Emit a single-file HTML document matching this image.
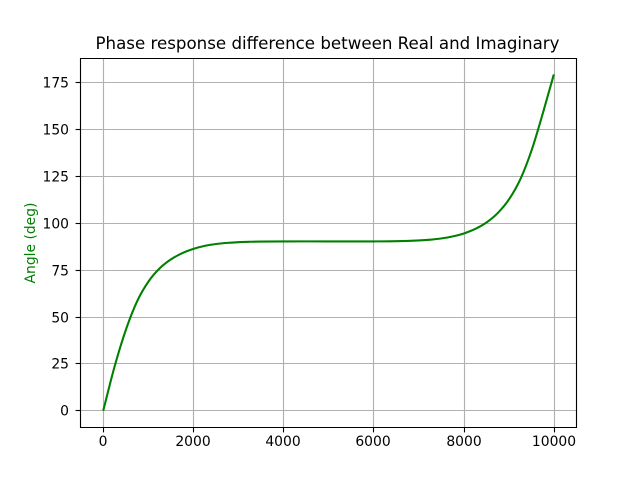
<!DOCTYPE html>
<html>
<head>
<meta charset="utf-8">
<title>Phase response difference</title>
<style>
html,body{margin:0;padding:0;background:#fff;}
svg{display:block;}
text{font-family:"DejaVu Sans","Liberation Sans",sans-serif;fill:#000;}
</style>
</head>
<body>
<svg id="chart" width="640" height="480" viewBox="0 0 640 480" xmlns="http://www.w3.org/2000/svg">
<rect x="0" y="0" width="640" height="480" fill="#fff"/>
<text x="327.5" y="49" font-size="16.67" text-anchor="middle">Phase response difference between Real and Imaginary</text>
<text transform="translate(35,243) rotate(-90)" font-size="13.89" text-anchor="middle" style="fill:#008000">Angle (deg)</text>
<g id="grid"></g>
<g id="series"></g>
<g id="ticks"></g>
<g id="spines"></g>
</svg>
<script>
const frequencies = [0,250,500,750,1000,1250,1500,1750,2000,2250,2500,2750,3000,3250,3500,4000,5000,6000,6500,7000,7250,7500,7750,8000,8250,8500,8750,9000,9250,9500,9750,9985];
const phaseDegrees = [0,23.4,43,58.3,68.8,75.9,80.7,84,86.3,87.9,88.9,89.5,89.9,90.1,90.2,90.3,90.3,90.3,90.4,90.8,91.2,91.9,93,94.6,97,100.5,105.6,113,123.8,139.4,159.3,179.3];
const xTickValues = [0,2000,4000,6000,8000,10000];
const yTickValues = [0,25,50,75,100,125,150,175];

const NS = 'http://www.w3.org/2000/svg';
const LEFT = 80, RIGHT = 576, TOP = 58, BOTTOM = 427;
function xAxis(v){ return 103.2 + v * 0.04513; }
function yAxis(v){ return 410.8 - v * 1.876; }
function snap(p){ return Math.floor(p) + 0.5; }
function line(parent, x1, y1, x2, y2, color, width){
  const el = document.createElementNS(NS, 'line');
  el.setAttribute('x1', x1);
  el.setAttribute('y1', y1);
  el.setAttribute('x2', x2);
  el.setAttribute('y2', y2);
  el.setAttribute('stroke', color);
  el.setAttribute('stroke-width', width);
  parent.appendChild(el);
  return el;
}
function label(parent, x, y, anchor, str){
  const el = document.createElementNS(NS, 'text');
  el.setAttribute('x', x);
  el.setAttribute('y', y);
  el.setAttribute('font-size', '13.89');
  el.setAttribute('text-anchor', anchor);
  el.textContent = str;
  parent.appendChild(el);
  return el;
}
const gridG = document.getElementById('grid');
const ticksG = document.getElementById('ticks');
const seriesG = document.getElementById('series');
const spinesG = document.getElementById('spines');

xTickValues.forEach(function(v){
  const x = snap(xAxis(v));
  const g = line(gridG, x, TOP, x, BOTTOM, '#b0b0b0', 1.11);
  
  
  const t = line(ticksG, x, BOTTOM + 0.5, x, BOTTOM + 5.4, '#000', 1.11);
  
  
  const l = label(ticksG, x - 0.5, 446, 'middle', String(v));
  
  
});
yTickValues.forEach(function(v){
  const y = snap(yAxis(v));
  const g = line(gridG, LEFT, y, RIGHT, y, '#b0b0b0', 1.11);
  
  
  const t = line(ticksG, LEFT + 0.5, y, LEFT - 4.4, y, '#000', 1.11);
  
  
  const l = label(ticksG, 69, y + 4.8, 'end', String(v));
  
  
});

/* smooth path through the read points, tangents from neighbouring points */
function curvePath(){
  const pts = frequencies.map(function(f, i){ return [xAxis(f), yAxis(phaseDegrees[i])]; });
  let d = 'M' + pts[0][0].toFixed(2) + ' ' + pts[0][1].toFixed(2);
  for (let i = 0; i < pts.length - 1; i++){
    const p0 = pts[Math.max(i - 1, 0)], p1 = pts[i], p2 = pts[i + 1], p3 = pts[Math.min(i + 2, pts.length - 1)];
    const h = p2[0] - p1[0];
    const m1 = (p2[1] - p0[1]) / ((p2[0] - p0[0]) || 1);
    const m2 = (p3[1] - p1[1]) / ((p3[0] - p1[0]) || 1);
    d += 'C' + (p1[0] + h / 3).toFixed(2) + ' ' + (p1[1] + m1 * h / 3).toFixed(2) + ' ' +
         (p2[0] - h / 3).toFixed(2) + ' ' + (p2[1] - m2 * h / 3).toFixed(2) + ' ' +
         p2[0].toFixed(2) + ' ' + p2[1].toFixed(2);
  }
  return d;
}
const curve = document.createElementNS(NS, 'path');


curve.setAttribute('d', curvePath());
curve.setAttribute('fill', 'none');
curve.setAttribute('stroke', '#008000');
curve.setAttribute('stroke-width', '2.08');
seriesG.appendChild(curve);

const sLeft = line(spinesG, LEFT + 0.5, TOP, LEFT + 0.5, BOTTOM + 1, '#000', 1.11);


const sRight = line(spinesG, RIGHT + 0.5, TOP, RIGHT + 0.5, BOTTOM + 1, '#000', 1.11);


const sTop = line(spinesG, LEFT, TOP + 0.5, RIGHT + 1, TOP + 0.5, '#000', 1.11);


const sBottom = line(spinesG, LEFT, BOTTOM + 0.5, RIGHT + 1, BOTTOM + 0.5, '#000', 1.11);


</script>
</body>
</html>
